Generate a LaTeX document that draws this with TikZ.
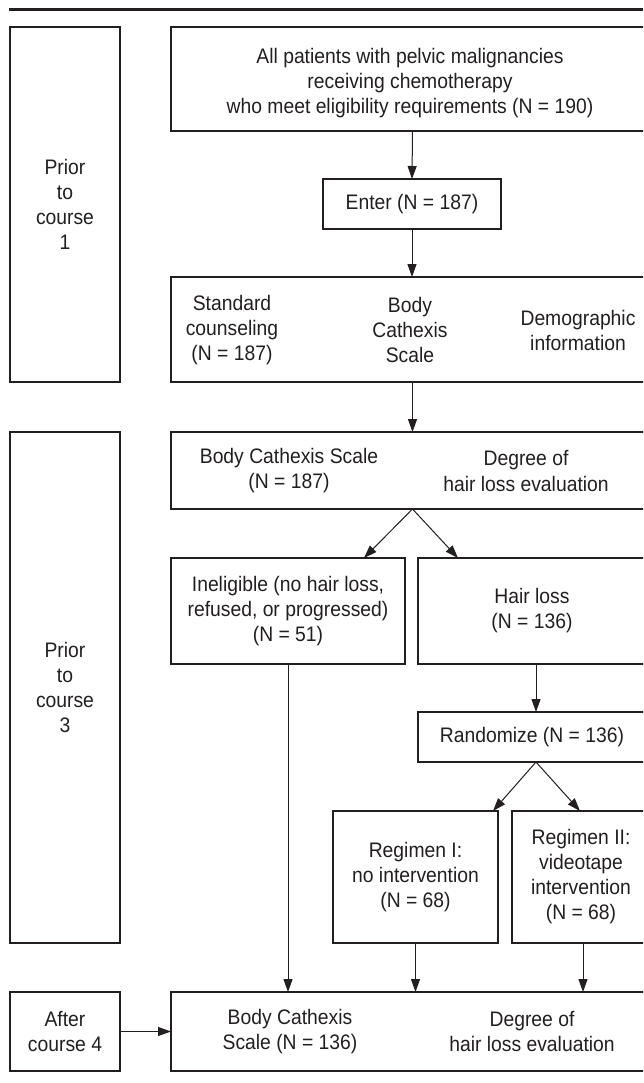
\documentclass[tikz,border=0pt]{standalone}
\usepackage{fontspec}
\newfontfamily\figfont{Liberation Sans}[FakeStretch=0.92]
\usetikzlibrary{arrows.meta,calc}
\definecolor{ink}{HTML}{231F20}
\begin{document}
\begin{tikzpicture}[x=1pt,y=-1pt,
  box/.style={draw=ink,line width=1.1pt,inner sep=0pt,outer sep=0pt},
  txt/.style={align=center,inner sep=0pt,text=ink,font=\figfont\fontsize{21}{25}\selectfont},
  arr/.style={draw=ink,line width=1pt,-{Triangle[length=13pt,width=9pt]}}]
\useasboundingbox (0,0) rectangle (643,1083);
\clip (0,0) rectangle (643,1083);
\fill[white] (0,0) rectangle (643,1083);
% top rule
\coordinate (rl) at (9,9.5);
\coordinate (rr) at (643,9.5);
\draw[ink,line width=3pt] (rl) -- (rr);
% left phase boxes
\node[box,minimum width=110,minimum height=355] (p1) at (65,204.5) {};
\node[txt] (p1t) at (p1.center) {Prior\\to\\course\\1};
\node[box,minimum width=110,minimum height=511] (p3) at (65,687.5) {};
\node[txt] (p3t) at (p3.center) {Prior\\to\\course\\3};
\node[box,minimum width=110,minimum height=79] (after) at (65,1031.5) {};
\node[txt] (aftert) at (after.center) {After\\course 4};
% main flow
\node[box,minimum width=483,minimum height=104] (top) at (412.5,79) {};
\node[txt] (topt) at (410,83) {All patients with pelvic malignancies\\receiving chemotherapy\\who meet eligibility requirements (N = 190)};
\node[box,minimum width=178,minimum height=50] (enter) at (412,204) {};
\node[txt] (entert) at (enter.center) {Enter (N = 187)};
\node[box,minimum width=483,minimum height=105] (b3) at (412.5,329.5) {};
\node[txt] (b3a) at (232,330) {Standard\\counseling\\(N = 187)};
\node[txt] (b3b) at (410,330) {Body\\Cathexis\\Scale};
\node[txt] (b3c) at (578,330) {Demographic\\information};
\node[box,minimum width=483,minimum height=77] (bcs) at (412.5,470.5) {};
\node[txt] (bcsa) at (289,471) {Body Cathexis Scale\\(N = 187)};
\node[txt] (bcsb) at (526,471) {Degree of\\hair loss evaluation};
\node[box,minimum width=234,minimum height=106] (inel) at (288,611) {};
\node[txt] (inelt) at (inel.center) {Ineligible (no hair loss,\\refused, or progressed)\\(N = 51)};
\node[box,minimum width=236,minimum height=106] (hair) at (536,611) {};
\node[txt] (hairt) at (532,611) {Hair loss\\(N = 136)};
\node[box,minimum width=236,minimum height=50] (rand) at (536,737) {};
\node[txt] (randt) at (532,737) {Randomize (N = 136)};
\node[box,minimum width=165,minimum height=132] (reg1) at (415.5,877) {};
\node[txt] (reg1t) at (reg1.center) {Regimen I:\\no intervention\\(N = 68)};
\node[box,minimum width=142,minimum height=132] (reg2) at (583,877) {};
\node[txt] (reg2t) at (581,877) {Regimen II:\\videotape\\intervention\\(N = 68)};
\node[box,minimum width=483,minimum height=79] (bot) at (412.5,1031.5) {};
\node[txt] (bota) at (290,1031.5) {Body Cathexis\\Scale (N = 136)};
\node[txt] (botb) at (532,1031.5) {Degree of\\hair loss evaluation};
% connectors
\draw[arr] (top.south) -- (enter.north);
\draw[arr] (enter.south) -- (enter.south |- b3.north);
\draw[arr] (b3.south) -- (bcs.north);
\draw[arr] (bcs.south) -- ($(inel.north)+(76,0)$);
\draw[arr] (bcs.south) -- ($(hair.north)+(-78,0)$);
\draw[arr] (hair.south) -- (rand.north);
\draw[arr] (rand.south) -- ($(reg1.north)+(77.5,0)$);
\draw[arr] (rand.south) -- ($(reg2.north)+(-3,0)$);
\draw[arr] (inel.south) -- (inel.south |- bot.north);
\draw[arr] (reg1.south) -- (reg1.south |- bot.north);
\draw[arr] (reg2.south) -- (reg2.south |- bot.north);
\draw[arr] (after.east) -- (bot.west);
\end{tikzpicture}
\end{document}
